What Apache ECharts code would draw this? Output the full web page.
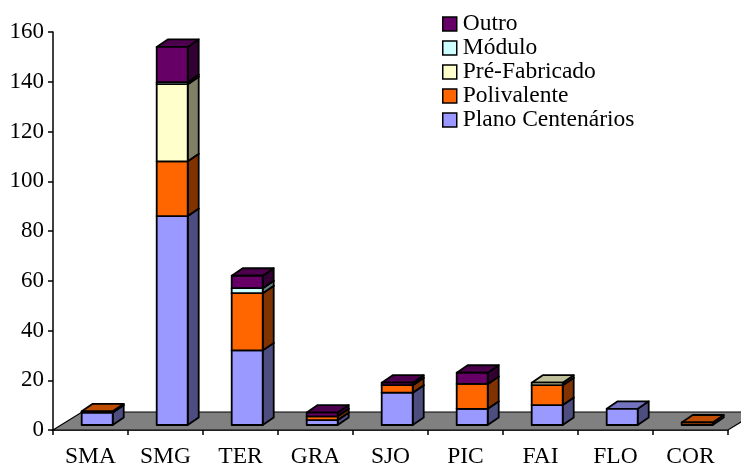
<!DOCTYPE html>
<html><head><meta charset="utf-8">
<style>html,body{margin:0;padding:0;background:#fff}#c{width:741px;height:464px}</style>
<script src="https://cdn.jsdelivr.net/npm/echarts@6/dist/echarts.min.js"></script>
</head><body><div id="c"></div>
<script>
const categories = ['SMA','SMG','TER','GRA','SJO','PIC','FAI','FLO','COR'];
const planoCentenarios = [5,84,30,2,13,6.5,8,6.5,0];
const polivalente      = [0.5,22,23,1.5,3,10,8,0,1];
const preFabricado     = [0,31,0,0,0,0,1,0,0];
const modulo           = [0,0.8,2,0,0,0,0,0,0];
const outro            = [0,14.2,5,1.5,1,4.5,0,0,0];
const seriesNames = ['Plano Centenários','Polivalente','Pré-Fabricado','Módulo','Outro'];
const seriesValues = [planoCentenarios,polivalente,preFabricado,modulo,outro];
const frontColors = ['#9999FF','#FF6600','#FFFFCC','#CCFFFF','#660066'];
const sideColors  = ['#4D4D80','#803300','#808066','#668080','#330033'];
const topColors   = ['#7373BF','#BF4D00','#BFBF99','#99BFBF','#4D004D'];
const yTicks = {min:0,max:160,interval:20};

const BAR_W=31, DX=11, DY=7.5, BAR_SHIFT=6.7, BASE_LIFT=5, LW=1.8;
const edge={stroke:'#000',lineWidth:LW,lineJoin:'round'};

function segment(s){
  return function(params,api){
    const lo=api.value(1), hi=api.value(2);
    if(hi<=lo) return null;
    const c0=api.coord([api.value(0),lo]), c1=api.coord([api.value(0),hi]);
    const xl=c0[0]+BAR_SHIFT-BAR_W/2, xr=xl+BAR_W;
    const yb=c0[1]-BASE_LIFT, yt=c1[1]-BASE_LIFT;
    return {type:'group',children:[
      {type:'polygon',shape:{points:[[xr,yb],[xr+DX,yb-DY],[xr+DX,yt-DY],[xr,yt]]},style:Object.assign({fill:sideColors[s]},edge)},
      {type:'polygon',shape:{points:[[xl,yt],[xl+DX,yt-DY],[xr+DX,yt-DY],[xr,yt]]},style:Object.assign({fill:topColors[s]},edge)},
      {type:'rect',shape:{x:xl,y:yt,width:BAR_W,height:yb-yt},style:Object.assign({fill:frontColors[s]},edge)}
    ]};
  };
}

const barSeries=seriesNames.map((name,s)=>({
  name,type:'custom',z:3+s,animation:false,silent:true,
  encode:{x:0,y:[1,2]},
  data:categories.map((c,i)=>{
    let lo=0;for(let k=0;k<s;k++)lo+=seriesValues[k][i];
    return [i,lo,lo+seriesValues[s][i]];
  }),
  itemStyle:{color:frontColors[s]},
  renderItem:segment(s)
}));

const floorSeries={
  name:'floor',type:'custom',z:1,animation:false,silent:true,data:[[0,0]],
  encode:{x:0,y:1},
  renderItem(params,api){
    const g=params.coordSys,b=g.y+g.height,fx=29,fy=18;
    return {type:'polygon',shape:{points:[[g.x,b],[g.x+fx,b-fy],[g.x+g.width+fx,b-fy],[g.x+g.width,b]]},
      style:{fill:'#808080',stroke:'#000',lineWidth:1.2}};
  }
};

const txt={fontFamily:'"Liberation Serif","Times New Roman",serif',fontSize:23,color:'#000'};
const chart=echarts.init(document.getElementById('c'));
chart.setOption({
  backgroundColor:'#fff',animation:false,tooltip:{show:false},
  grid:{left:53,top:32,width:675,height:398,containLabel:false,outerBoundsMode:'none'},
  legend:{orient:'vertical',left:437,top:7,itemWidth:14,itemHeight:14,itemGap:0,selectedMode:false,
    align:'left',textStyle:Object.assign({},txt,{fontSize:23.5,padding:[0,0,0,1]}),
    data:seriesNames.map((n,i)=>({name:n,icon:'rect',itemStyle:{color:frontColors[i],borderColor:'#000',borderWidth:1.5}})).reverse()},
  xAxis:{type:'category',data:categories,boundaryGap:true,
    axisLine:{lineStyle:{color:'#000',width:1.5}},
    axisTick:{show:true,length:5,lineStyle:{color:'#000',width:1.5}},
    axisLabel:Object.assign({},txt,{fontSize:23.5,margin:15,interval:0}),splitLine:{show:false}},
  yAxis:{type:'value',min:yTicks.min,max:yTicks.max,interval:yTicks.interval,
    axisLine:{show:true,lineStyle:{color:'#000',width:1.5}},
    axisTick:{show:true,length:5,lineStyle:{color:'#000',width:1.5}},
    axisLabel:Object.assign({},txt,{margin:9,padding:[3,0,0,0]}),splitLine:{show:false}},
  series:[floorSeries].concat(barSeries)
});
</script></body></html>
